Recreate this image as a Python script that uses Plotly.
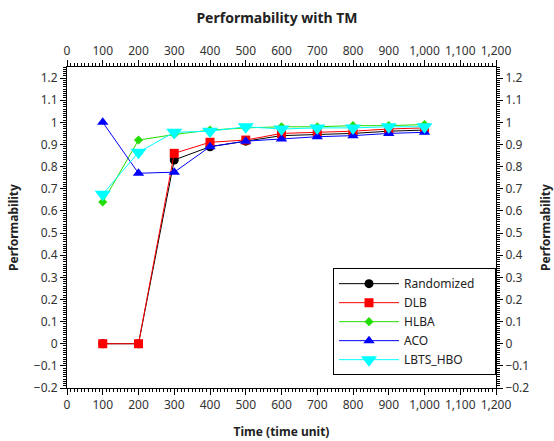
import plotly.graph_objects as go

time_units = [100, 200, 300, 400, 500, 600, 700, 800, 900, 1000]
randomized = [0, 0, 0.83, 0.89, 0.915, 0.94, 0.945, 0.95, 0.96, 0.965]
dlb = [0, 0, 0.86, 0.91, 0.92, 0.95, 0.955, 0.96, 0.97, 0.975]
hlba = [0.64, 0.92, 0.945, 0.965, 0.975, 0.98, 0.98, 0.985, 0.985, 0.99]
aco = [1.0, 0.77, 0.775, 0.89, 0.915, 0.925, 0.935, 0.94, 0.95, 0.955]
lbts_hbo = [0.675, 0.865, 0.955, 0.96, 0.98, 0.97, 0.975, 0.975, 0.98, 0.98]

series = [
    ("Randomized", randomized, "black", "circle", 9),
    ("DLB", dlb, "red", "square", 9),
    ("HLBA", hlba, "#22dd00", "diamond", 7),
    ("ACO", aco, "blue", "triangle-up", 10),
    ("LBTS_HBO", lbts_hbo, "cyan", "triangle-down", 14),
]

FONT = "Noto Sans"
PAD = "\u00a0" * 5  # right-hand breathing room inside the legend box

fig = go.Figure()
for name, vals, color, symbol, size in series:
    fig.add_trace(go.Scatter(
        x=time_units, y=vals, name=name + PAD, mode="lines+markers",
        line=dict(color=color, width=1),
        marker=dict(color=color, symbol=symbol, size=size, line=dict(width=0)),
    ))

# invisible trace to activate the mirrored top and right axes
fig.add_trace(go.Scatter(x=[0], y=[0], xaxis="x2", yaxis="y2",
                         showlegend=False, hoverinfo="skip",
                         marker=dict(opacity=0), mode="markers"))

xr = [0, 1200]
yr = [-0.2, 1.25]
common_x = dict(range=xr, dtick=100, tickformat=",d", ticks="outside", ticklen=6,
                tickcolor="black", showline=True, linecolor="black", linewidth=1,
                showgrid=False, zeroline=False, automargin=False,
                minor=dict(dtick=10, ticks="outside", ticklen=3, tickcolor="black"),
                tickfont=dict(family=FONT, size=12, color="#333"))
common_y = dict(range=yr, dtick=0.1, ticks="outside", ticklen=6,
                tickcolor="black", showline=True, linecolor="black", linewidth=1,
                showgrid=False, zeroline=False, automargin=False,
                minor=dict(dtick=0.01, ticks="outside", ticklen=3, tickcolor="black"),
                tickfont=dict(family=FONT, size=12, color="#333"))

fig.update_layout(
    width=554, height=441,
    margin=dict(l=67, r=58, t=67, b=53),
    paper_bgcolor="white", plot_bgcolor="white",
    font=dict(family=FONT, color="#222"),
    title=dict(text="<b>Performability with TM</b>", x=0.5, xanchor="center",
               y=0.96, yanchor="middle", font=dict(family=FONT, size=14, color="#222")),
    xaxis=dict(**common_x, title=dict(text="<b>Time (time unit)</b>",
                                      font=dict(family=FONT, size=12), standoff=15)),
    xaxis2=dict(**common_x, overlaying="x", side="top", anchor="y"),
    yaxis=dict(**common_y, title=dict(text="<b>Performability</b>",
                                      font=dict(family=FONT, size=12), standoff=12)),
    yaxis2=dict(**common_y, overlaying="y", side="right", anchor="x",
                title=dict(text="<b>Performability</b>",
                           font=dict(family=FONT, size=12), standoff=20)),
    legend=dict(x=1.0, y=0.04, xanchor="right", yanchor="bottom",
                bgcolor="white", bordercolor="black", borderwidth=1,
                font=dict(family=FONT, size=12, color="#222"),
                itemwidth=60, tracegroupgap=0),
    showlegend=True,
)

fig.write_html("out.html")
